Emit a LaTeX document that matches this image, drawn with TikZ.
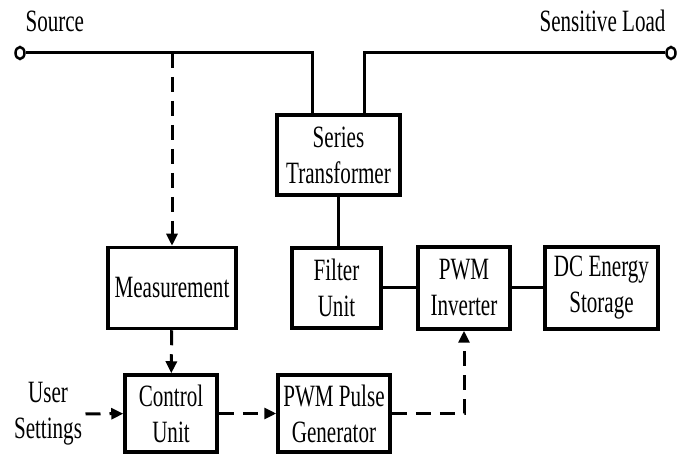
\documentclass[tikz,border=0pt]{standalone}
\usepackage{fontspec}
\setmainfont[FakeStretch=0.68]{Liberation Serif}
\usepackage{tikz}
\usetikzlibrary{arrows.meta, positioning, calc, shapes.geometric}
\tikzset{
    block/.style={draw, rectangle, line width=3.5pt, align=center, inner sep=2pt},
    wire/.style={line width=3pt},
    sig/.style={line width=3pt, dash pattern=on 15pt off 9pt, -{Triangle[length=12pt, width=11pt]}},
    term/.style={draw, ellipse, fill=white, line width=2.5pt, inner sep=0pt, minimum width=9pt, minimum height=12pt},
}

\begin{document}
\begin{tikzpicture}[x=1pt, y=-1pt]
    \tikzset{
      every node/.append style={font=\fontsize{31}{36}\selectfont}
    }
    \useasboundingbox (0,0) rectangle (686,457);

    \node[term] (src) at (20,53) {};
    \node[term] (load) at (671,53) {};
    \node[anchor=base west] (srclbl) at (22,32) {Source};
    \node[anchor=base east] (loadlbl) at (669,32) {Sensitive Load};

    \node[block, minimum width=123pt, minimum height=80pt] (trans) at (338.5,155) {Series\\Transformer};
    \node[block, minimum width=128pt, minimum height=81pt] (meas) at (172,288) {Measurement};
    \node[block, minimum width=89pt, minimum height=80pt] (filter) at (336.5,288) {Filter\\Unit};
    \node[block, minimum width=92pt, minimum height=82pt] (inv) at (464,288) {PWM\\Inverter};
    \node[block, minimum width=113pt, minimum height=82pt] (dc) at (601.5,288) {DC Energy\\Storage};
    \node[block, minimum width=92pt, minimum height=77pt] (ctrl) at (171,413.5) {Control\\Unit};
    \node[block, minimum width=112pt, minimum height=77pt] (pulse) at (334,413.5) {PWM Pulse\\Generator};
    \node[align=center] (user) at (48,414) {User\\Settings};

    \draw[wire] (src.east) -| ([xshift=-26pt]trans.north);
    \draw[wire] ([xshift=26pt]trans.north) |- (load.west);
    \draw[wire] (trans.south) -- (trans.south |- filter.north);
    \draw[wire] (filter) -- (inv);
    \draw[wire] (inv) -- (dc);

    \draw[sig] (meas.north |- src) -- (meas.north);
    \draw[sig] (meas) -- (ctrl);
    \draw[sig] (user) -- (ctrl);
    \draw[sig] (ctrl) -- (pulse);
    \draw[sig] (pulse.east) -| (inv.south);
  \end{tikzpicture}
\end{document}
